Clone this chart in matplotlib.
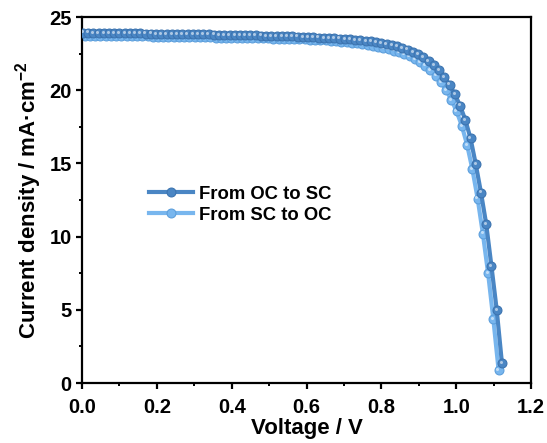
import numpy as np
import matplotlib.pyplot as plt
from matplotlib.transforms import offset_copy

plt.rcParams['font.family'] = ['Liberation Sans', 'DejaVu Sans']
plt.rcParams['font.weight'] = 'bold'
plt.rcParams['mathtext.fontset'] = 'custom'
plt.rcParams['mathtext.rm'] = 'Liberation Sans:bold'
plt.rcParams['mathtext.default'] = 'rm'

# J-V sweep, reverse scan (open circuit -> short circuit)
v_oc_sc = [0.002, 0.016, 0.030, 0.044, 0.058, 0.072, 0.086, 0.100, 0.114, 0.128,
           0.142, 0.156, 0.170, 0.184, 0.198, 0.212, 0.226, 0.240, 0.254, 0.268,
           0.282, 0.296, 0.310, 0.324, 0.338, 0.352, 0.366, 0.380, 0.394, 0.408,
           0.422, 0.436, 0.450, 0.464, 0.478, 0.492, 0.506, 0.520, 0.534, 0.548,
           0.562, 0.576, 0.590, 0.604, 0.618, 0.632, 0.646, 0.660, 0.674, 0.688,
           0.702, 0.716, 0.730, 0.744, 0.758, 0.772, 0.786, 0.800, 0.814, 0.828,
           0.842, 0.856, 0.870, 0.884, 0.898, 0.912, 0.926, 0.940, 0.954, 0.968,
           0.982, 0.996, 1.010, 1.024, 1.038, 1.052, 1.066, 1.080, 1.094, 1.108,
           1.122]
j_oc_sc = [23.93, 23.93, 23.92, 23.92, 23.91, 23.91, 23.90, 23.90, 23.89, 23.89,
           23.88, 23.88, 23.87, 23.87, 23.86, 23.86, 23.85, 23.85, 23.84, 23.84,
           23.83, 23.83, 23.82, 23.81, 23.81, 23.80, 23.79, 23.79, 23.78, 23.77,
           23.77, 23.76, 23.75, 23.74, 23.73, 23.72, 23.71, 23.70, 23.69, 23.68,
           23.67, 23.66, 23.64, 23.63, 23.61, 23.60, 23.58, 23.56, 23.54, 23.52,
           23.50, 23.47, 23.44, 23.41, 23.37, 23.33, 23.28, 23.22, 23.16, 23.09,
           23.00, 22.89, 22.77, 22.62, 22.44, 22.24, 22.00, 21.72, 21.36, 20.92,
           20.38, 19.72, 18.95, 17.98, 16.72, 14.95, 13.00, 10.85, 7.97, 5.00,
           1.35]

# forward scan (short circuit -> open circuit)
v_sc_oc = [0.007, 0.021, 0.035, 0.049, 0.063, 0.077, 0.091, 0.105, 0.119, 0.133,
           0.147, 0.161, 0.175, 0.189, 0.203, 0.217, 0.231, 0.245, 0.259, 0.273,
           0.287, 0.301, 0.315, 0.329, 0.343, 0.357, 0.371, 0.385, 0.399, 0.413,
           0.427, 0.441, 0.455, 0.469, 0.483, 0.497, 0.511, 0.525, 0.539, 0.553,
           0.567, 0.581, 0.595, 0.609, 0.623, 0.637, 0.651, 0.665, 0.679, 0.693,
           0.707, 0.721, 0.735, 0.749, 0.763, 0.777, 0.791, 0.805, 0.819, 0.833,
           0.847, 0.861, 0.875, 0.889, 0.903, 0.917, 0.931, 0.945, 0.959, 0.973,
           0.987, 1.001, 1.015, 1.029, 1.043, 1.057, 1.071, 1.085, 1.099, 1.113]
j_sc_oc = [23.72, 23.72, 23.71, 23.71, 23.70, 23.70, 23.70, 23.69, 23.69, 23.68,
           23.68, 23.67, 23.67, 23.66, 23.66, 23.65, 23.65, 23.64, 23.64, 23.63,
           23.63, 23.62, 23.62, 23.61, 23.61, 23.60, 23.59, 23.59, 23.58, 23.58,
           23.57, 23.56, 23.56, 23.55, 23.54, 23.54, 23.53, 23.52, 23.52, 23.51,
           23.50, 23.49, 23.47, 23.46, 23.44, 23.42, 23.40, 23.38, 23.35, 23.32,
           23.29, 23.25, 23.21, 23.16, 23.11, 23.05, 22.98, 22.90, 22.81, 22.71,
           22.60, 22.47, 22.32, 22.14, 21.93, 21.68, 21.38, 21.00, 20.55, 20.00,
           19.35, 18.55, 17.55, 16.26, 14.60, 12.60, 10.20, 7.49, 4.35, 0.89]

dark_blue = '#4a86c4'
light_blue = '#78b6ee'

fig = plt.figure(figsize=(5.47, 4.43), dpi=100)
ax = fig.add_axes([0.150, 0.1354, 0.821, 0.8262])

# shifted copy of the data for the glossy highlight on each sphere marker
shine = offset_copy(ax.transData, fig=fig, x=-1.2, y=1.2, units='dots')

handles = {}
for v, j, c, edge, name, z in [(v_sc_oc, j_sc_oc, light_blue, '#5d9fdc', 'From SC to OC', 2),
                               (v_oc_sc, j_oc_sc, dark_blue, '#3c74b0', 'From OC to SC', 3)]:
    base, = ax.plot(v, j, '-o', color=c, lw=3.0, ms=6.4, mfc=c, mec=edge,
                    mew=0.8, zorder=z)
    ax.plot(v, j, 'o', ls='none', color='white', ms=2.2, alpha=0.55,
            mew=0, transform=shine, zorder=z + 0.1)
    handles[name] = base

order = ['From OC to SC', 'From SC to OC']
ax.legend([handles[k] for k in order], order, loc='upper left',
          bbox_to_anchor=(0.132, 0.559), borderaxespad=0, frameon=False,
          fontsize=13.3, handlelength=2.4, handletextpad=0.3, labelspacing=0.2,
          numpoints=1)

ax.set_xlim(0, 1.2)
ax.set_ylim(0, 25)
ax.set_xticks(np.arange(0, 1.21, 0.2))
ax.set_xticks(np.arange(0.1, 1.2, 0.2), minor=True)
ax.set_yticks(np.arange(0, 26, 5))
ax.set_yticks(np.arange(2.5, 25, 5), minor=True)
ax.xaxis.set_major_formatter(plt.FormatStrFormatter('%.1f'))

for s in ax.spines.values():
    s.set_linewidth(1.6)
ax.tick_params(which='major', direction='out', length=4.5, width=1.6, labelsize=14.5, pad=3)
ax.tick_params(axis='x', which='major', pad=6)
ax.tick_params(which='minor', direction='out', length=2.5, width=1.4)

ax.set_xlabel('Voltage / V', fontsize=16, fontweight='bold', labelpad=1)
ax.set_ylabel('Current density / mA·cm$^{-2}$', fontsize=16, fontweight='bold', labelpad=4)

fig.savefig('out.png', dpi=100)
